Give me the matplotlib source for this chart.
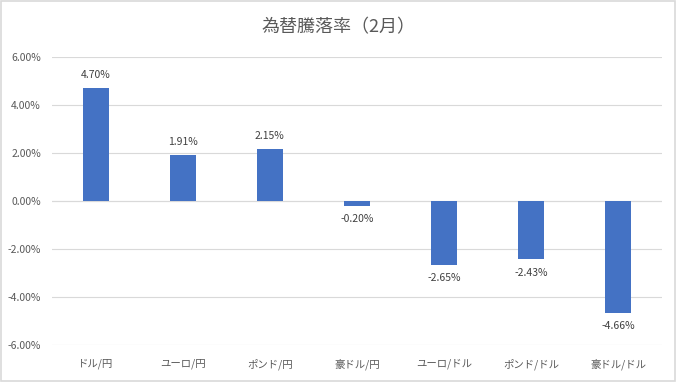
import matplotlib
matplotlib.use("Agg")
import matplotlib.pyplot as plt
from matplotlib.patches import Rectangle
from matplotlib.ticker import FuncFormatter

plt.rcParams['font.family'] = ['Noto Sans CJK JP', 'DejaVu Sans']

# data
pairs = ['ドル/円', 'ユーロ/円', 'ポンド/円', '豪ドル/円', 'ユーロ/ドル', 'ポンド/ドル', '豪ドル/ドル']
change = [4.70, 1.91, 2.15, -0.20, -2.65, -2.43, -4.66]
title = '為替騰落率（2月）'

txt = '#595959'
fig = plt.figure(figsize=(6.76, 3.82), dpi=100)
fig.patches.append(Rectangle((0.002, 0.003), 0.996, 0.994, transform=fig.transFigure,
                             fill=False, edgecolor='#d9d9d9', linewidth=1.2))
ax = fig.add_axes([52/676, 1 - 345/382, 610/676, 288/382])

x = range(len(pairs))
bars = ax.bar(x, change, width=0.3, color='#4472C4', zorder=3)
for xi, v in zip(x, change):
    off = 0.35 if v >= 0 else -0.35
    ax.text(xi, v + off, f'{v:.2f}%', ha='center', va='bottom' if v >= 0 else 'top',
            fontsize=7.5, color='#404040')

ax.set_ylim(-6, 6)
ax.set_xlim(-0.5, len(pairs) - 0.5)
ax.set_yticks(range(-6, 7, 2))
ax.yaxis.set_major_formatter(FuncFormatter(lambda v, p: f'{v:.2f}%'))
ax.grid(axis='y', color='#d9d9d9', linewidth=0.8, zorder=0)
ax.axhline(0, color='#d9d9d9', linewidth=0.8, zorder=1)
for s in ax.spines.values():
    s.set_visible(False)
ax.tick_params(length=0, labelsize=7.5, colors=txt)
ax.set_xticks(list(x))
ax.set_xticklabels(pairs)
ax.tick_params(axis='x', pad=10)
ax.tick_params(axis='y', pad=8)

fig.text(0.5, 1 - 27/382, title, ha='center', va='center', fontsize=13, color=txt)

fig.savefig('out.png', dpi=100)
